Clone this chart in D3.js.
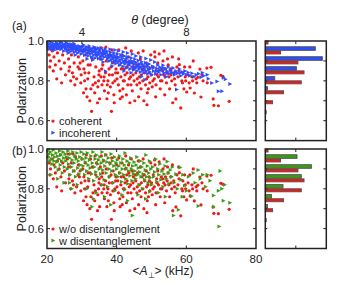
<!DOCTYPE html>
<html>
<head>
<meta charset="utf-8">
<script src="https://cdn.jsdelivr.net/npm/d3@7"></script>
<style>
body { margin: 0; background: #fff; }
text { font-family: "Liberation Sans", Arial, sans-serif; fill: #222; }
</style>
</head>
<body>
<svg id="chart" width="339" height="292"></svg>
<script>
// <A_perp> (kHz), polarization
const coherent = [
  [20.3,.96],[20.6,.93],[21,.90],[20.8,.87],[21.5,.95],[22,.92],[22.4,.88],[21.8,.85],[23,.94],[23.5,.90],[24,.86],[24.5,.93],[25,.89],[22.8,.81],[24.2,.79],[25.3,.83],[23.8,.97],
  [25.8,.95],[26.2,.91],[26.5,.87],[27,.93],[27.3,.84],[27.8,.89],[28.2,.96],[28.5,.81],[28,.78],[29,.92],[29.3,.86],[29.8,.83],[26.8,.80],[30,.95],[27.5,.975],[29.5,.89],[26,.975],
  [30.3,.90],[30.6,.86],[30.8,.80],[31,.93],[31.2,.76],[31.5,.72],[31.8,.88],[32,.84],[32.3,.70],[32.5,.95],[32.8,.647],[33,.91],[33.2,.78],[33.5,.82],[33.7,.74],[34,.87],[34.2,.93],[34.5,.69],[34.8,.80],[35,.85],[31.3,.97],[33.8,.965],[30.5,.74],[32.6,.76],[34.6,.77],
  [35.3,.91],[35.5,.82],[35.8,.78],[36,.88],[36.2,.94],[36.5,.75],[36.8,.84],[37,.90],[37.2,.71],[37.5,.80],[37.8,.86],[38,.93],[38.2,.77],[38.5,.647],[38.8,.83],[39,.89],[39.2,.73],[39.5,.80],[39.8,.86],[40,.92],[35.6,.965],[36.9,.97],[38.6,.955],[36.3,.80],[37.6,.74],[39.3,.69],[35.1,.71],[38.4,.87],
  [40.3,.84],[40.5,.78],[40.8,.88],[41,.71],[41.2,.82],[41.5,.93],[41.8,.76],[42,.86],[42.2,.80],[42.5,.90],[42.8,.73],[43,.84],[43.2,.78],[43.5,.88],[43.8,.69],[44,.82],[44.2,.95],[44.5,.75],[44.8,.86],[45,.80],[40.6,.955],[42.6,.965],[41.6,.72],[43.4,.92],[44.4,.89],[45.2,.70],
  [45.5,.84],[45.8,.78],[46,.88],[46.3,.72],[46.5,.82],[46.8,.91],[47,.76],[47.3,.86],[47.5,.80],[47.8,.70],[48,.84],[48.3,.78],[48.5,.89],[48.8,.74],[49,.82],[49.3,.86],[49.5,.79],[49.8,.93],[50,.83],[46.2,.94],[47.6,.95],[48.7,.68],[49.1,.76],[50.2,.77],
  [50.5,.87],[50.8,.81],[51,.92],[51.3,.78],[51.5,.85],[51.8,.89],[52,.82],[52.2,.935],[52.5,.76],[52.8,.86],[53,.80],[53.3,.90],[53.5,.83],[53.8,.73],[54,.86],[54.3,.79],[54.6,.91],[55,.82],[51.2,.72],[53.6,.95],[54.8,.88],[55.2,.76],[50.9,.945],
  [55.5,.86],[55.8,.80],[56.1,.69],[56.4,.84],[56.8,.78],[57,.709],[57.3,.87],[57.6,.82],[58,.881],[58.4,.664],[58.7,.80],[59,.84],[59.3,.76],[59.7,.82],[60.1,.744],[56,.92],[57.8,.91],[59.5,.87],
  [60.5,.83],[61.1,.764],[61.6,.82],[62.3,.739],[62.8,.81],[63.3,.818],[63.9,.859],[64.2,.719],[64.8,.80],[65.9,.864],[67.1,.868],[67.7,.709],[67.9,.677],[69.2,.675],[69.9,.828],[70.5,.823],[72.3,.697],[61,.87],[62,.90],[66,.79],
  [26.3,.85],[27.6,.82],[28.9,.87],[29.7,.79],[30.9,.84],[31.7,.81],[32.4,.88],[33.9,.79],[34.9,.83],[35.7,.86],[36.4,.82],[37.3,.78],[37.9,.83],[38.9,.79],[39.7,.84],[40.1,.81],[40.9,.75],[41.3,.86],[41.9,.80],[42.4,.83],[42.9,.87],[43.6,.81],[44.1,.78],[44.7,.83],[45.4,.87],[45.9,.81],[46.6,.79],[47.1,.83],[47.9,.87],[48.6,.81],[49.4,.84],[50.4,.80],[51.6,.83],[52.6,.80],[53.2,.85],[53.9,.82],[54.5,.84],[55.6,.83],[56.6,.81],[57.9,.85],[58.9,.79],[59.8,.80],[60.8,.79],[61.8,.80],[63,.79],[64.5,.83]
];

const incoherent = [
  [20.2,.99],[20.3,.975],[20.5,.96],[20.7,.985],[20.9,.97],[21.1,.993],[21.2,.958],[21.4,.98],[21.6,.966],[21.8,.988],[22,.975],[22.1,.955],[22.3,.982],[22.5,.968],[22.7,.99],[22.9,.96],[23.1,.977],[23.3,.985],[23.5,.962],[23.6,.972],[23.8,.989],[24,.958],[24.2,.976],[24.4,.966],[24.6,.984],[24.8,.95],[25,.972],
  [25.2,.983],[25.4,.96],[25.6,.975],[25.8,.952],[26,.968],[26.2,.985],[26.4,.958],[26.6,.972],[26.8,.947],[27,.965],[27.2,.98],[27.4,.955],[27.6,.97],[27.8,.943],[28,.962],[28.2,.978],[28.4,.952],[28.6,.967],[28.8,.94],[29,.958],[29.2,.975],[29.4,.948],[29.6,.963],[29.8,.935],[30,.955],
  [25.5,.99],[26.9,.985],[27.9,.975],[29.1,.97],[26.1,.94],[28.1,.93],
  [30.2,.972],[30.4,.945],[30.6,.96],[30.8,.93],[31,.952],[31.2,.968],[31.4,.94],[31.6,.957],[31.8,.925],[32,.948],[32.2,.965],[32.4,.935],[32.6,.952],[32.8,.92],[33,.944],[33.2,.962],[33.4,.93],[33.6,.948],[33.8,.915],[34,.94],[34.2,.958],[34.4,.926],[34.6,.945],[34.8,.912],[35,.936],
  [30.5,.98],[32.1,.975],[33.5,.97],[34.7,.965],[31.5,.91],[33.1,.905],
  [35.2,.955],[35.4,.922],[35.6,.94],[35.8,.908],[36,.932],[36.2,.952],[36.4,.918],[36.6,.936],[36.8,.848],[37,.926],[37.2,.948],[37.4,.912],[37.6,.93],[37.8,.9],[38,.922],[38.2,.944],[38.4,.906],[38.6,.925],[38.8,.893],[39,.916],[39.2,.94],[39.4,.9],[39.6,.92],[39.8,.887],[40,.91],
  [35.5,.965],[36.7,.96],[38.1,.958],[39.5,.955],[36.1,.895],[38.7,.875],
  [40.2,.935],[40.4,.895],[40.6,.918],[40.8,.88],[41,.905],[41.2,.93],[41.4,.89],[41.6,.912],[41.8,.872],[42,.9],[42.2,.925],[42.4,.884],[42.6,.906],[42.8,.865],[43,.894],[43.2,.92],[43.4,.878],[43.6,.9],[43.8,.86],[44,.888],[44.2,.915],[44.4,.87],[44.6,.895],[44.8,.855],[45,.882],
  [40.5,.95],[41.9,.945],[43.1,.94],[44.5,.935],[42.1,.85],[44.1,.84],
  [45.2,.908],[45.4,.865],[45.6,.89],[45.8,.85],[46,.876],[46.2,.902],[46.4,.86],[46.6,.884],[46.8,.845],[47,.87],[47.2,.896],[47.4,.855],[47.6,.878],[47.8,.84],[48,.865],[48.1,.806],[48.3,.89],[48.5,.85],[48.7,.872],[48.9,.835],[49.1,.86],[49.3,.884],[49.5,.845],[49.7,.866],[50,.83],
  [45.5,.925],[46.9,.92],[48.4,.912],[49.8,.905],[47.1,.82],
  [50.3,.872],[50.6,.85],[50.9,.895],[51.2,.835],[51.5,.862],[51.8,.88],[52.1,.845],[52.4,.868],[52.7,.83],[53,.855],[53.3,.878],[53.6,.84],[53.9,.86],[54.2,.82],[54.5,.848],[54.8,.87],[55,.835],
  [55.4,.855],[55.8,.84],[56.2,.865],[56.6,.83],[57,.85],[57.2,.756],[57.5,.838],[58,.86],[58.4,.825],[58.8,.845],[59.2,.835],[59.6,.85],[60,.83],
  [60.5,.842],[61,.825],[61.6,.838],[62.2,.82],[62.8,.83],[63.5,.835],[64.2,.818],[65,.826],[66.3,.811],[67.3,.789],[68.8,.797],[69.2,.748],[70.2,.748],[70.6,.815],[71.2,.808],[72.5,.784],[66,.83],[64.6,.84],
  [20.4,.968],[21.3,.972],[21.9,.962],[22.6,.978],[23.4,.968],[24.1,.992],[24.7,.97],[25.3,.965],[26.5,.978],[27.3,.962],[27.7,.988],[28.5,.958],[29.3,.952],[29.9,.968],[30.7,.948],[31.3,.958],[31.9,.94],[32.7,.96],[33.3,.945],[33.9,.955],[34.3,.932],[35.1,.948],[35.9,.925],[36.5,.945],[37.1,.94],[37.7,.918],[38.3,.932],[38.9,.91],[39.3,.928],[39.9,.9],[40.3,.92],[40.9,.9],[41.5,.922],[42.3,.895],[42.9,.915],[43.5,.89],[44.3,.9],[44.9,.87],[45.3,.895],[45.9,.875],[46.5,.87],[47.3,.885],[47.9,.855],[48.8,.88],[49.4,.86],[50.5,.865],[51.4,.85],[52.3,.855],[53.4,.866],[54.4,.838],[55.6,.85],[56.9,.842],[58.2,.84]
];

const disentangled = [
  [20.2,.99],[20.4,.96],[20.6,.975],[20.8,.94],[21,.985],[21.2,.95],[21.4,.925],[21.6,.97],[21.8,.995],[22,.94],[22.2,.96],[22.4,.91],[22.6,.98],[22.8,.935],[23,.965],[23.2,.895],[23.4,.95],[23.6,.99],[23.8,.92],[24,.97],[24.2,.94],[24.4,.88],[24.6,.985],[24.8,.955],[25,.91],[21.1,.87],[23.1,.85],[24.9,.83],
  [25.2,.975],[25.4,.94],[25.6,.96],[25.8,.9],[26,.99],[26.2,.925],[26.4,.955],[26.6,.87],[26.8,.975],[27,.91],[27.2,.945],[27.4,.985],[27.6,.89],[27.8,.93],[28,.965],[28.2,.86],[28.4,.95],[28.6,.98],[28.8,.905],[29,.94],[29.2,.875],[29.4,.96],[29.6,.92],[29.8,.985],[30,.895],[26.5,.83],[28.7,.82],[27.1,.8],
  [30.2,.95],[30.4,.915],[30.6,.975],[30.8,.87],[31,.935],[31.2,.955],[31.4,.89],[31.6,.98],[31.8,.92],[32,.85],[32.2,.945],[32.4,.905],[32.6,.965],[32.8,.875],[33,.93],[33.2,.985],[33.4,.84],[33.6,.91],[33.8,.95],[34,.885],[34.2,.97],[34.4,.86],[34.6,.925],[34.8,.945],[35,.9],[31.5,.8],[33.3,.75],[34.1,.78],[32.9,.71],
  [35.2,.96],[35.4,.875],[35.6,.93],[35.8,.985],[36,.895],[36.2,.945],[36.4,.845],[36.6,.915],[36.8,.97],[37,.88],[37.2,.935],[37.4,.81],[37.6,.955],[37.8,.9],[38,.86],[38.2,.925],[38.4,.975],[38.6,.89],[38.8,.94],[39,.83],[39.2,.915],[39.4,.96],[39.6,.87],[39.8,.93],[40,.9],[36.5,.76],[38.3,.72],[39.5,.79],[35.9,.82],
  [40.2,.945],[40.4,.86],[40.6,.915],[40.8,.965],[41,.88],[41.2,.93],[41.4,.835],[41.6,.9],[41.8,.95],[42,.87],[42.2,.92],[42.4,.98],[42.6,.85],[42.8,.905],[43,.94],[43.2,.825],[43.4,.89],[43.6,.93],[43.8,.865],[44,.955],[44.2,.9],[44.4,.84],[44.5,.666],[44.6,.915],[44.8,.875],[45,.935],[41.5,.77],[43.1,.74],[42.3,.795],
  [45.2,.89],[45.4,.85],[45.6,.92],[45.8,.96],[46,.87],[46.2,.905],[46.4,.82],[46.6,.885],[46.8,.94],[47,.86],[47.2,.91],[47.4,.8],[47.6,.875],[47.8,.93],[48,.845],[48.2,.895],[48.4,.97],[48.6,.86],[48.8,.915],[49,.83],[49.2,.88],[49.4,.94],[49.6,.855],[49.8,.9],[50,.82],[46.1,.77],[48.3,.75],[49.5,.785],
  [50.3,.91],[50.6,.86],[50.9,.885],[51.2,.95],[51.5,.835],[51.8,.9],[52.1,.87],[52.4,.925],[52.7,.845],[53,.89],[53.3,.81],[53.6,.875],[53.9,.915],[54.2,.85],[54.5,.937],[54.8,.88],[55,.825],[52,.78],[54,.76],
  [55.4,.895],[55.8,.86],[56.3,.666],[56.5,.83],[57,.875],[57.4,.8],[57.7,.695],[58.2,.907],[58.5,.845],[59,.87],[59.5,.815],[60,.79],[56,.91],[58.8,.76],
  [60.6,.86],[61.5,.762],[62,.88],[62.5,.83],[63.4,.895],[63.4,.713],[64,.85],[64.7,.87],[65.5,.81],[66,.87],[67.8,.766],[67.8,.708],[69.2,.79],[69.4,.61],[69.7,.89],[70.2,.8],[70.6,.74],[72.5,.73],[66.8,.84],[71,.82]
];

// histogram bins (polarization) and counts
const binCenters = [1.0, 0.95, 0.9, 0.85, 0.8, 0.75, 0.7, 0.65, 0.6];
const histCoherent = [9, 50, 107, 127, 118, 60, 24, 3, 1];
const histIncoherent = [0, 164, 187, 102, 31, 7, 0, 0, 0];
const histDisentangled = [0, 104, 151, 118, 58, 20, 7, 0, 0];

const aTicks = [40, 60];
const aLabels = [20, 40, 60, 80];
const thetaTicks = [4, 8];
const polLabels = [0.6, 0.8, 1.0];
const polMinor = [0.6, 0.7, 0.8, 0.9];

const RED = "#f01818", BLUE = "#2d4dff", GREEN = "#3a9c14";
const triPath = "M-1.6,-2L2.3,0L-1.6,2Z";

let svg = d3.select("svg#chart");
const xScale = d3.scaleLinear().domain([20, 80]).range([47, 256]);
const thetaScale = d3.scaleLinear().domain([20 / 7.5, 80 / 7.5]).range([47, 256]);
const countScale = d3.scaleLinear().domain([0, 200]).range([265.3, 326.3]);

function drawPanel(top, bottom, pts2, color2, label, legend1, legend2, hist2, isTop) {
  const yScale = d3.scaleLinear().domain([0.5, 1.0]).range([bottom, top]);
  let g = svg.append("g");

  // red points first, second series on top
  g.selectAll("circle.red").data(coherent).enter().append("circle")
    .attr("cx", d => xScale(d[0])).attr("cy", d => yScale(d[1]))
    .attr("r", 1.6).style("fill", RED);
  g.selectAll("path.pt").data(pts2).enter().append("path")
    .attr("d", triPath)
    .attr("transform", d => "translate(" + xScale(d[0]) + "," + yScale(d[1]) + ")")
    .style("fill", color2);

  // frame
  g.append("rect").attr("x", 47).attr("y", top).attr("width", 209).attr("height", bottom - top)
    .attr("fill", "none").attr("stroke", "#222").attr("stroke-width", 1.5);

  // ticks (inward)
  polLabels.forEach(p => {
    g.append("line").attr("x1", 47).attr("x2", 50).attr("y1", yScale(p)).attr("y2", yScale(p)).attr("stroke", "#222");
    g.append("text").attr("x", 44).attr("y", yScale(p)).attr("text-anchor", "end")
      .attr("dominant-baseline", "central").style("font-size", "11.5px").text(d3.format(".1f")(p));
  });
  polMinor.forEach(p => {
    g.append("line").attr("x1", 253).attr("x2", 256).attr("y1", yScale(p)).attr("y2", yScale(p)).attr("stroke", "#222");
  });
  aTicks.forEach(a => {
    g.append("line").attr("x1", xScale(a)).attr("x2", xScale(a)).attr("y1", bottom).attr("y2", bottom - 3).attr("stroke", "#222");
    if (!isTop) g.append("line").attr("x1", xScale(a)).attr("x2", xScale(a)).attr("y1", top).attr("y2", top + 3).attr("stroke", "#222");
  });

  g.append("text").attr("transform", "translate(22," + ((top + bottom) / 2) + ") rotate(-90)")
    .attr("text-anchor", "middle").attr("dominant-baseline", "central")
    .style("font-size", "12.5px").text("Polarization");
  g.append("text").attr("x", 12).attr("y", top + (isTop ? -11 : 6)).style("font-size", "12px").text(label);

  // legend
  const ly1 = yScale(0.598), ly2 = yScale(0.54);
  g.append("circle").attr("cx", 53).attr("cy", ly1).attr("r", 1.6).style("fill", RED);
  g.append("path").attr("d", triPath).attr("transform", "translate(53," + ly2 + ")").style("fill", color2);
  g.append("text").attr("x", 59).attr("y", ly1).attr("dominant-baseline", "central").style("font-size", "11px").text(legend1);
  g.append("text").attr("x", 59).attr("y", ly2).attr("dominant-baseline", "central").style("font-size", "11px").text(legend2);

  // histogram
  let h = svg.append("g");
  binCenters.forEach((b, i) => {
    const yc = yScale(b);
    if (hist2[i] > 0) {
      h.append("rect").attr("x", countScale(0)).attr("y", yc - 4.2)
        .attr("width", countScale(hist2[i]) - countScale(0)).attr("height", 3.6)
        .attr("fill", color2).attr("stroke", "#505050").attr("stroke-width", 0.9);
    }
    if (histCoherent[i] > 0) {
      h.append("rect").attr("x", countScale(0)).attr("y", yc)
        .attr("width", countScale(histCoherent[i]) - countScale(0)).attr("height", 3)
        .attr("fill", RED).attr("stroke", "#505050").attr("stroke-width", 0.9);
    }
  });
  h.append("rect").attr("x", countScale(0)).attr("y", top).attr("width", countScale(200) - countScale(0))
    .attr("height", bottom - top).attr("fill", "none").attr("stroke", "#222").attr("stroke-width", 1.5);
  polMinor.forEach(p => {
    h.append("line").attr("x1", countScale(200) - 3).attr("x2", countScale(200)).attr("y1", yScale(p)).attr("y2", yScale(p)).attr("stroke", "#222");
    h.append("line").attr("x1", countScale(0)).attr("x2", countScale(0) + 2).attr("y1", yScale(p)).attr("y2", yScale(p)).attr("stroke", "#222");
  });
  h.append("line").attr("x1", countScale(100)).attr("x2", countScale(100)).attr("y1", top).attr("y2", top + 3).attr("stroke", "#222");
  h.append("line").attr("x1", countScale(100)).attr("x2", countScale(100)).attr("y1", bottom).attr("y2", bottom - 3).attr("stroke", "#222");
  return yScale;
}

drawPanel(41, 140.6, incoherent, BLUE, "(a)", "coherent", "incoherent", histIncoherent, true);
drawPanel(149, 248.5, disentangled, GREEN, "(b)", "w/o disentanglement", "w disentanglement", histDisentangled, false);

// top theta axis of panel (a)
thetaTicks.forEach(t => {
  svg.append("line").attr("x1", thetaScale(t)).attr("x2", thetaScale(t)).attr("y1", 41).attr("y2", 44).attr("stroke", "#222");
  svg.append("text").attr("x", thetaScale(t)).attr("y", 36).attr("text-anchor", "middle").style("font-size", "11.5px").text(t);
});
let tt = svg.append("text").attr("x", 160).attr("y", 24).attr("text-anchor", "middle").style("font-size", "12.5px");
tt.append("tspan").style("font-style", "italic").text("θ");
tt.append("tspan").text(" (degree)");

// bottom A axis of panel (b)
aLabels.forEach(a => {
  svg.append("text").attr("x", xScale(a)).attr("y", 263).attr("text-anchor", "middle").style("font-size", "11.5px").text(a);
});
let xt = svg.append("text").attr("x", 163).attr("y", 275).attr("text-anchor", "middle").style("font-size", "12px");
xt.append("tspan").text("<");
xt.append("tspan").style("font-style", "italic").text("A");
xt.append("tspan").attr("dy", 3).style("font-size", "8px").text("⊥");
xt.append("tspan").attr("dy", -3).text("> (kHz)");
</script>
</body>
</html>
